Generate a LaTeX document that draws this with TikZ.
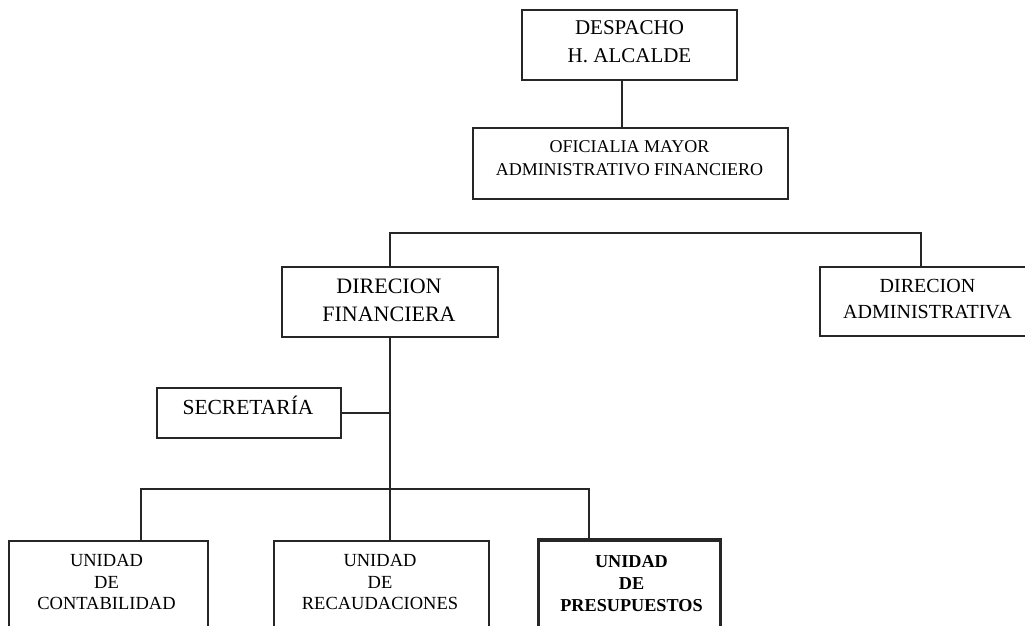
\documentclass[tikz,border=0pt]{standalone}
\usepackage{fontspec}
\setmainfont{Liberation Serif}
\begin{document}
\begin{tikzpicture}[x=1pt,y=-1pt,
  box/.style={draw=black!85,line width=2pt,rectangle,inner sep=0pt},
  boldbox/.style={box,line width=3.4pt},
  lbl/.style={inner sep=0pt,align=center,text=black},
  link/.style={draw=black!85,line width=2pt}]
\useasboundingbox (0,0) rectangle (1025,625);
\clip (0,0) rectangle (1025,625);

% boxes
\node[box,minimum width=215pt,minimum height=70pt] (dh) at (629.2,45) {};
\node[box,minimum width=315.3pt,minimum height=71pt] (oma) at (630.35,163.5) {};
\node[box,minimum width=215.4pt,minimum height=69.4pt] (df) at (390,302) {};
\node[box,minimum width=220pt,minimum height=68.4pt] (da) at (930,301.5) {};
\node[box,minimum width=184.3pt,minimum height=50pt] (sec) at (248.85,413.3) {};
\node[box,minimum width=199pt,minimum height=109.3pt] (uc) at (108.8,595.35) {};
\node[box,minimum width=215pt,minimum height=109.3pt] (ur) at (381.5,595.35) {};
\node[boldbox,minimum width=182.4pt,minimum height=110pt] (up) at (629.5,595) {};

% labels
\node[lbl,font=\fontsize{21}{28}\selectfont] (dht) at (629.5,42) {DESPACHO\\H. ALCALDE};
\node[lbl,font=\fontsize{18}{23}\selectfont] (omat) at (629.5,158) {OFICIALIA MAYOR\\ADMINISTRATIVO FINANCIERO};
\node[lbl,font=\fontsize{22}{28.4}\selectfont] (dft) at (389,300.2) {DIRECION\\FINANCIERA};
\node[lbl,font=\fontsize{20}{25.6}\selectfont] (dat) at (927.5,298.9) {DIRECION\\ADMINISTRATIVA};
\node[lbl,font=\fontsize{21.5}{26}\selectfont,anchor=base] (sect) at (248,414) {SECRETARÍA};
\node[lbl,font=\fontsize{18.5}{21.7}\selectfont] (uct) at (106.5,582.2) {UNIDAD\\DE\\CONTABILIDAD};
\node[lbl,font=\fontsize{18.5}{21.7}\selectfont] (urt) at (380,582.2) {UNIDAD\\DE\\RECAUDACIONES};
\node[lbl,font=\bfseries\fontsize{18.2}{21.8}\selectfont] (upt) at (631.5,583.7) {UNIDAD\\DE\\PRESUPUESTOS};

% branch points
\coordinate (j1) at (622,100);
\coordinate (bar1) at (0,232.7);
\coordinate (j2) at (920.7,250);
\coordinate (bar2) at (0,489.3);
\coordinate (j3) at (140.7,500);
\coordinate (j4) at (589,500);

% connectors
\draw[link] (j1 |- dh.south) -- (j1 |- oma.north);
\draw[link] (df.north) -- (df.north |- bar1) -- (j2 |- bar1) -- (j2 |- da.north);
\draw[link] (df.south) -- (df.south |- ur.north);
\draw[link] (sec.east) -- (sec.east -| df.south);
\draw[link] (j3 |- uc.north) -- (j3 |- bar2) -- (j4 |- bar2) -- (j4 |- up.north);
\end{tikzpicture}
\end{document}
